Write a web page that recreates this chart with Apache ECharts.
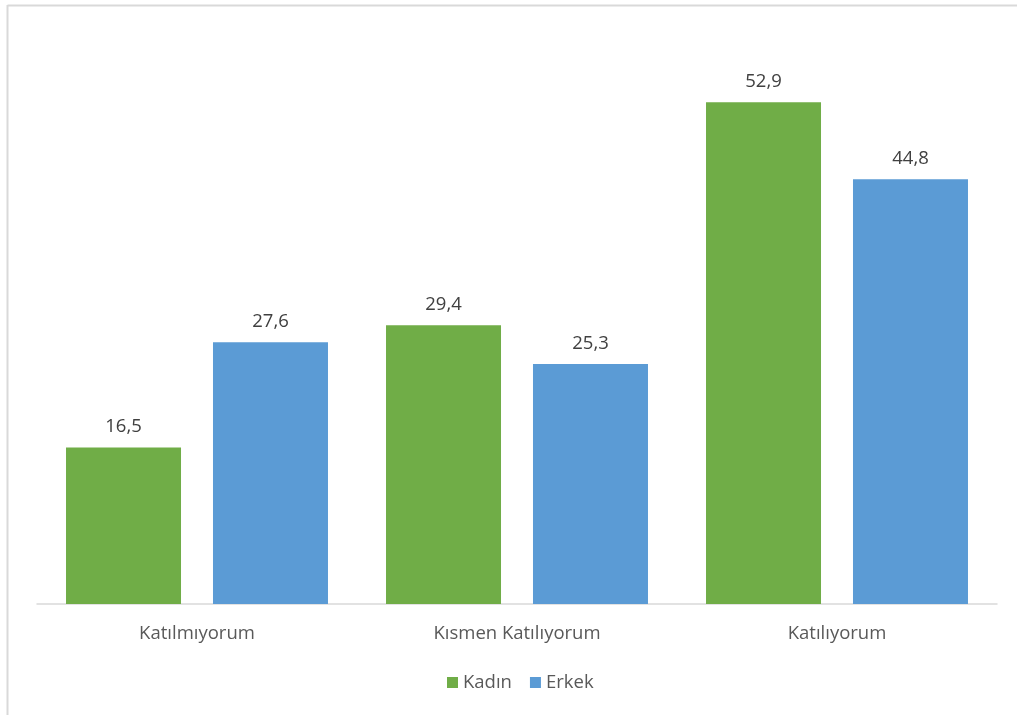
<!DOCTYPE html>
<html><head><meta charset="utf-8">
<script src="https://cdn.jsdelivr.net/npm/echarts@6/dist/echarts.min.js"></script>
<style>html,body{margin:0;padding:0;background:#fff}#c{width:1017px;height:715px}</style>
</head><body><div id="c"></div>
<script>
const categories = ['Katılmıyorum', 'Kısmen Katılıyorum', 'Katılıyorum'];
const kadin = [16.5, 29.4, 52.9];
const erkek = [27.6, 25.3, 44.8];
const seriesNames = ['Kadın', 'Erkek'];

const chart = echarts.init(document.getElementById('c'));
const font = '"Open Sans", "Noto Sans", sans-serif';
const fs = 18.5;
const lbl = {show: true, position: 'top', distance: 11, color: '#404040', fontSize: fs, fontFamily: font,
  formatter: p => String(p.value).replace('.', ',')};
chart.setOption({
  animation: false,
  graphic: [
    {type: 'line', shape: {x1: 7.5, y1: 5.5, x2: 1017, y2: 5.5}, style: {stroke: '#d9d9d9', lineWidth: 2}},
    {type: 'line', shape: {x1: 7.5, y1: 5, x2: 7.5, y2: 715}, style: {stroke: '#d9d9d9', lineWidth: 2}}
  ],
  grid: {left: 37, right: 20, top: 35, bottom: 111},
  legend: {bottom: 18, left: 442, itemWidth: 11, itemHeight: 11, itemGap: 18, icon: 'rect',
    textStyle: {color: '#595959', fontSize: fs, fontFamily: font}, data: seriesNames},
  xAxis: {type: 'category', data: categories,
    axisLine: {lineStyle: {color: '#d9d9d9', width: 1.5}}, axisTick: {show: false},
    axisLabel: {color: '#595959', fontSize: fs, fontFamily: font, margin: 20}},
  yAxis: {type: 'value', min: 0, max: 60, show: false, splitLine: {show: false}},
  series: [
    {name: seriesNames[0], type: 'bar', data: kadin, barWidth: 115, barGap: '27.8%', itemStyle: {color: '#70AD47'}, label: lbl},
    {name: seriesNames[1], type: 'bar', data: erkek, barWidth: 115, itemStyle: {color: '#5B9BD5'}, label: lbl}
  ]
});
</script></body></html>
